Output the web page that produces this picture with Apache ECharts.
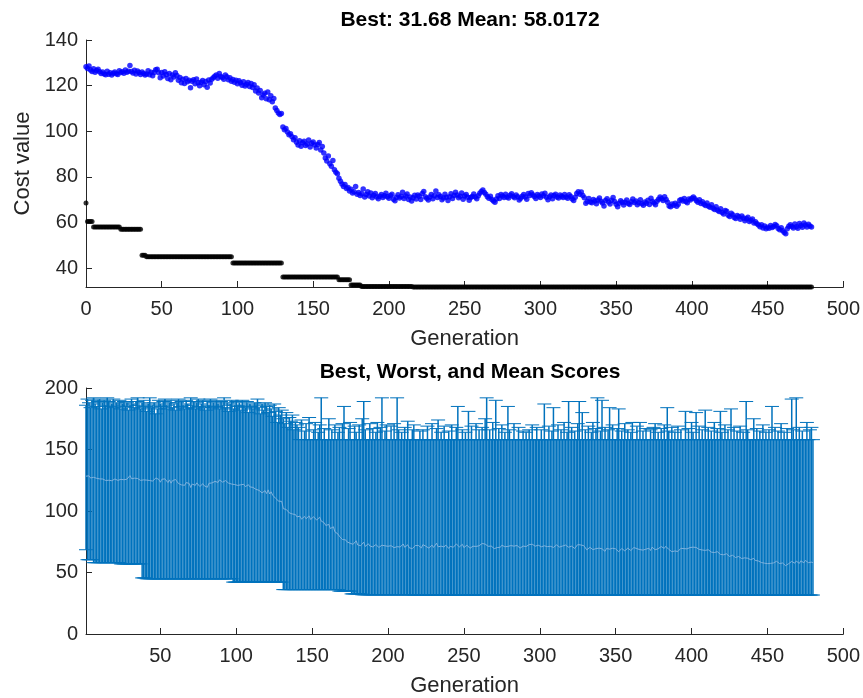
<!DOCTYPE html>
<html>
<head>
<meta charset="utf-8">
<script src="https://cdn.jsdelivr.net/npm/echarts@6/dist/echarts.min.js"></script>
<style>html,body{margin:0;padding:0;background:#fff}#c{width:863px;height:698px}</style>
</head>
<body>
<div id="c"></div>
<script>
// ---------- data ----------
const topTitle = "Best: 31.68 Mean: 58.0172";
const bottomTitle = "Best, Worst, and Mean Scores";
const xName = "Generation";
const yName = "Cost value";
const topYTicks = [40, 60, 80, 100, 120, 140];
const topXTicks = [0, 50, 100, 150, 200, 250, 300, 350, 400, 450, 500];
const bottomXTicks = [50, 100, 150, 200, 250, 300, 350, 400, 450, 500];

// best score per generation (0..479)
const bestScores = [
68.5,60.4,60.4,60.4,60.4,58,58,58,58,58,58,58,58,58,58,58,58,58,58,58,
58,58,58,57,57,57,57,57,57,57,57,57,57,57,57,57,57,45.6,45.6,45.6,
44.9,44.9,44.9,44.9,44.9,44.9,44.9,44.9,44.9,44.9,44.9,44.9,44.9,44.9,44.9,44.9,44.9,44.9,44.9,44.9,
44.9,44.9,44.9,44.9,44.9,44.9,44.9,44.9,44.9,44.9,44.9,44.9,44.9,44.9,44.9,44.9,44.9,44.9,44.9,44.9,
44.9,44.9,44.9,44.9,44.9,44.9,44.9,44.9,44.9,44.9,44.9,44.9,44.9,44.9,44.9,44.9,44.9,42.2,42.2,42.2,
42.2,42.2,42.2,42.2,42.2,42.2,42.2,42.2,42.2,42.2,42.2,42.2,42.2,42.2,42.2,42.2,42.2,42.2,42.2,42.2,
42.2,42.2,42.2,42.2,42.2,42.2,42.2,42.2,42.2,42.2,36.1,36.1,36.1,36.1,36.1,36.1,36.1,36.1,36.1,36.1,
36.1,36.1,36.1,36.1,36.1,36.1,36.1,36.1,36.1,36.1,36.1,36.1,36.1,36.1,36.1,36.1,36.1,36.1,36.1,36.1,
36.1,36.1,36.1,36.1,36.1,36.1,36.1,34.9,34.9,34.9,34.9,34.9,34.9,34.9,34.9,32.6,32.6,32.6,32.6,32.6,
32.6,32.6,31.9,31.9,31.9,31.9,31.9,31.9,31.9,31.9,31.9,31.9,31.9,31.9,31.9,31.9,31.9,31.9,31.9,31.9,
31.9,31.9,31.9,31.9,31.9,31.9,31.9,31.9,31.9,31.9,31.9,31.9,31.9,31.9,31.9,31.9,31.68,31.68,31.68,31.68,
31.68,31.68,31.68,31.68,31.68,31.68,31.68,31.68,31.68,31.68,31.68,31.68,31.68,31.68,31.68,31.68,31.68,31.68,31.68,31.68,
31.68,31.68,31.68,31.68,31.68,31.68,31.68,31.68,31.68,31.68,31.68,31.68,31.68,31.68,31.68,31.68,31.68,31.68,31.68,31.68,
31.68,31.68,31.68,31.68,31.68,31.68,31.68,31.68,31.68,31.68,31.68,31.68,31.68,31.68,31.68,31.68,31.68,31.68,31.68,31.68,
31.68,31.68,31.68,31.68,31.68,31.68,31.68,31.68,31.68,31.68,31.68,31.68,31.68,31.68,31.68,31.68,31.68,31.68,31.68,31.68,
31.68,31.68,31.68,31.68,31.68,31.68,31.68,31.68,31.68,31.68,31.68,31.68,31.68,31.68,31.68,31.68,31.68,31.68,31.68,31.68,
31.68,31.68,31.68,31.68,31.68,31.68,31.68,31.68,31.68,31.68,31.68,31.68,31.68,31.68,31.68,31.68,31.68,31.68,31.68,31.68,
31.68,31.68,31.68,31.68,31.68,31.68,31.68,31.68,31.68,31.68,31.68,31.68,31.68,31.68,31.68,31.68,31.68,31.68,31.68,31.68,
31.68,31.68,31.68,31.68,31.68,31.68,31.68,31.68,31.68,31.68,31.68,31.68,31.68,31.68,31.68,31.68,31.68,31.68,31.68,31.68,
31.68,31.68,31.68,31.68,31.68,31.68,31.68,31.68,31.68,31.68,31.68,31.68,31.68,31.68,31.68,31.68,31.68,31.68,31.68,31.68,
31.68,31.68,31.68,31.68,31.68,31.68,31.68,31.68,31.68,31.68,31.68,31.68,31.68,31.68,31.68,31.68,31.68,31.68,31.68,31.68,
31.68,31.68,31.68,31.68,31.68,31.68,31.68,31.68,31.68,31.68,31.68,31.68,31.68,31.68,31.68,31.68,31.68,31.68,31.68,31.68,
31.68,31.68,31.68,31.68,31.68,31.68,31.68,31.68,31.68,31.68,31.68,31.68,31.68,31.68,31.68,31.68,31.68,31.68,31.68,31.68,
31.68,31.68,31.68,31.68,31.68,31.68,31.68,31.68,31.68,31.68,31.68,31.68,31.68,31.68,31.68,31.68,31.68,31.68,31.68,31.68
];

// mean score per generation (0..479)
const meanScores = [
128.3,127.5,128.6,126.8,126.2,127.4,125.9,126.6,127.2,126.1,
125.3,126.0,125.1,124.8,126.3,125.0,125.6,124.6,125.4,126.0,
125.2,124.9,126.5,125.7,126.1,125.4,126.8,125.9,126.3,128.8,
126.2,125.5,126.7,125.1,126.4,125.8,124.9,126.0,125.3,124.6,
125.1,126.5,124.8,125.9,124.3,125.7,126.9,127.2,125.6,123.4,
125.8,124.2,126.1,124.9,123.1,125.3,122.6,124.7,123.8,125.6,
124.4,122.3,123.5,121.2,122.8,120.9,123.1,121.7,122.4,119.1,
121.9,122.6,120.8,122.9,121.3,119.9,121.5,122.2,120.4,121.8,
119.3,122.5,121.1,122.8,123.4,124.1,124.6,123.2,125.3,124.0,
123.5,122.8,124.7,123.9,122.6,123.4,121.9,122.7,121.5,122.3,
120.8,122.1,121.3,120.2,121.7,119.8,120.6,121.4,119.6,120.9,
119.2,120.4,117.6,118.9,116.8,117.9,114.7,115.9,116.6,114.2,
117.2,113.8,115.6,112.9,114.3,110.2,109.1,108.0,107.3,107.8,
101.9,100.6,101.2,99.7,98.4,98.9,97.6,96.3,97.1,95.2,
94.0,95.8,93.4,94.9,95.6,93.7,94.4,96.1,93.1,94.7,
95.3,93.9,92.6,94.2,95.0,91.8,93.3,90.4,88.2,86.9,
89.1,85.7,84.6,87.2,83.1,82.0,81.3,79.4,78.1,76.8,
75.7,76.6,74.9,75.3,73.8,74.6,72.9,73.5,75.8,72.4,
73.1,71.8,72.6,74.7,71.2,72.3,73.4,71.6,72.9,70.8,
71.9,72.7,71.1,70.4,71.5,72.2,70.9,71.7,72.8,71.3,
70.6,71.8,72.4,70.2,69.5,71.0,72.1,70.7,71.4,73.2,
70.5,71.6,72.5,70.1,71.2,69.4,70.8,71.9,70.3,72.0,
71.5,70.0,72.7,73.6,71.3,70.6,69.8,71.1,72.3,70.4,
71.7,73.8,70.9,72.1,71.4,69.9,70.7,72.4,71.0,69.6,
71.3,72.6,70.5,71.8,73.2,72.0,70.8,71.5,72.9,70.2,
71.6,72.3,71.0,69.7,70.9,71.4,72.5,71.2,70.4,71.7,
72.8,73.6,74.2,73.1,72.4,71.3,70.6,71.5,70.1,69.4,
68.9,70.3,71.7,70.5,72.2,71.6,70.9,72.4,71.2,70.7,
71.9,72.6,71.4,70.8,72.0,71.3,69.8,70.6,71.5,72.3,
71.1,70.2,72.7,71.8,73.0,72.1,71.4,70.5,72.2,71.6,
70.9,72.5,71.7,72.8,71.0,69.9,71.3,72.0,70.4,71.8,
72.4,71.2,70.7,72.0,71.5,70.9,72.3,71.1,70.6,72.1,
71.4,70.3,69.6,71.0,72.7,73.5,72.4,73.3,71.8,70.8,
68.4,69.2,70.5,69.0,68.6,70.1,69.4,68.2,69.8,70.7,
69.3,68.5,67.2,69.6,70.4,69.0,68.1,69.7,70.9,69.2,
68.0,66.9,68.4,69.5,68.8,67.6,68.9,69.8,68.3,67.9,
69.1,70.3,68.7,69.4,67.8,68.6,69.9,68.2,67.5,69.0,
68.4,69.7,67.9,70.6,69.2,68.5,67.7,69.3,70.2,71.1,
70.4,69.6,71.3,70.0,68.8,67.2,66.9,68.1,67.5,68.4,
67.1,68.0,69.7,70.1,69.4,70.5,69.2,68.6,70.3,69.8,
70.6,71.2,70.4,69.5,68.8,69.9,68.3,69.1,68.0,67.4,
68.5,67.1,66.6,67.8,66.2,65.7,66.9,65.3,64.8,66.0,
64.4,63.7,65.2,64.9,63.1,62.6,64.0,63.4,62.2,61.7,
63.0,62.5,61.4,62.8,61.9,60.7,61.6,62.3,60.4,60.9,
61.5,59.8,60.3,59.4,58.9,58.1,59.0,57.6,58.4,57.2,
57.9,57.4,58.6,57.8,58.2,59.1,58.5,57.3,56.8,57.7,
56.4,55.6,55.0,57.2,58.3,59.0,58.2,57.6,59.3,58.1,
57.4,59.5,58.6,57.9,59.8,58.9,58.0,59.2,58.4,58.02
];

// worst score per generation (0..479)
const worstScores = [
186,191,188,184,190,192,187,185,189,191,
183,188,190,186,192,189,185,187,191,184,
188,186,190,183,187,189,185,188,182,186,
191,187,184,189,192,186,183,188,190,185,
181,187,192,184,186,188,179,183,190,187,
185,189,191,186,183,188,190,184,187,182,
188,191,185,189,186,183,190,187,184,192,
186,189,183,188,191,185,187,190,184,182,
189,186,191,184,188,185,190,187,183,189,
186,192,184,188,181,187,190,183,186,189,
185,188,182,190,186,184,189,180,187,185,
183,188,186,191,184,179,187,182,188,185,
180,186,183,177,187,181,172,184,178,182,
175,171,180,168,176,173,178,166,172,170,
168,158,174,158,165,171,158,176,158,158,
166,172,158,164,170,192,158,167,158,158,
175,158,166,158,170,158,164,168,158,171,
185,158,158,167,172,158,158,169,164,158,
170,158,175,189,166,158,158,171,158,167,
158,164,172,158,168,192,158,165,170,158,
158,169,158,171,158,192,166,158,164,158,
168,158,173,158,158,166,170,158,158,158,
165,158,166,158,158,169,158,158,171,158,
158,167,174,158,164,158,169,158,158,165,
158,170,158,158,168,185,158,158,166,158,
164,158,181,158,169,158,158,171,158,166,
158,168,158,175,192,158,166,158,172,158,
190,158,167,158,170,158,164,158,185,166,
158,158,171,158,158,168,158,158,165,158,
164,158,166,158,170,158,158,168,158,158,
166,158,187,158,158,169,158,165,184,158,
158,170,158,166,158,172,158,164,189,158,
168,158,165,158,171,189,158,180,158,166,
158,169,158,164,172,158,167,192,158,165,
190,158,168,158,166,184,158,170,158,158,
167,183,158,165,158,171,158,166,158,164,
172,158,158,169,158,172,158,165,158,167,
158,158,166,158,168,171,158,164,158,167,
158,170,158,184,165,158,168,158,164,158,
169,158,166,158,158,181,158,167,158,172,
164,158,180,158,169,158,166,158,182,158,
168,158,165,158,172,158,167,158,181,164,
158,170,158,166,158,183,158,168,158,165,
158,169,158,164,158,189,166,158,158,158,
175,158,167,158,165,158,170,158,164,158,
166,158,185,158,168,158,165,158,171,158,
164,158,167,158,158,191,166,158,192,158,
168,158,165,158,158,172,158,166,168,158
];

// ---------- build chart ----------
const FONT = "'Liberation Sans', Arial, Helvetica, sans-serif";
const AX = '#262626';
const gens = bestScores.map((_, i) => i);
const bestPts = gens.map(g => [g, bestScores[g]]);
const meanPts = gens.map(g => [g, meanScores[g]]);
const rangePts = gens.map(g => [g + 1, bestScores[g], worstScores[g], meanScores[g]]);
const meanLinePts = gens.map(g => [g + 1, meanScores[g]]);

const axisCommon = {
  axisLine: { show: true, lineStyle: { color: AX, width: 1 } },
  axisTick: { show: true, inside: true, length: 6, lineStyle: { color: AX } },
  axisLabel: { color: AX, fontSize: 20, fontFamily: FONT },
  splitLine: { show: false }
};

const chart = echarts.init(document.getElementById('c'), null, { renderer: 'canvas' });
chart.setOption({
  animation: false,
  backgroundColor: '#fff',
  title: [
    { text: topTitle, left: 465, top: 5, textAlign: 'center',
      textStyle: { fontSize: 21, fontWeight: 'bold', color: '#000', fontFamily: FONT } },
    { text: bottomTitle, left: 465, top: 357, textAlign: 'center',
      textStyle: { fontSize: 21, fontWeight: 'bold', color: '#000', fontFamily: FONT } }
  ],
  grid: [
    { left: 86, top: 40, width: 758, height: 247 },
    { left: 86, top: 388, width: 759, height: 248 }
  ],
  xAxis: [
    Object.assign({}, axisCommon, {
      gridIndex: 0, type: 'value', min: 0, max: 500,
      name: xName, nameLocation: 'middle', nameGap: 41,
      nameTextStyle: { color: AX, fontSize: 22, fontFamily: FONT },
      axisTick: Object.assign({}, axisCommon.axisTick, { customValues: topXTicks }),
      axisLabel: Object.assign({}, axisCommon.axisLabel, { customValues: topXTicks, margin: 12 })
    }),
    Object.assign({}, axisCommon, {
      gridIndex: 1, type: 'value', min: 1, max: 500,
      name: xName, nameLocation: 'middle', nameGap: 41,
      nameTextStyle: { color: AX, fontSize: 22, fontFamily: FONT },
      axisTick: Object.assign({}, axisCommon.axisTick, { customValues: bottomXTicks }),
      axisLabel: Object.assign({}, axisCommon.axisLabel, { customValues: bottomXTicks, margin: 12 })
    })
  ],
  yAxis: [
    Object.assign({}, axisCommon, {
      gridIndex: 0, type: 'value', min: 31.68, max: 140,
      name: yName, nameLocation: 'middle', nameGap: 46, nameRotate: 90,
      nameTextStyle: { color: AX, fontSize: 22, fontFamily: FONT },
      axisTick: Object.assign({}, axisCommon.axisTick, { customValues: topYTicks }),
      axisLabel: Object.assign({}, axisCommon.axisLabel, { customValues: topYTicks, margin: 8 })
    }),
    Object.assign({}, axisCommon, {
      gridIndex: 1, type: 'value', min: 0, max: 200, interval: 50,
      axisLabel: Object.assign({}, axisCommon.axisLabel, { margin: 8 })
    })
  ],
  series: [
    { type: 'scatter', xAxisIndex: 0, yAxisIndex: 0, data: bestPts,
      symbol: 'circle', symbolSize: 5, itemStyle: { color: '#000' }, silent: true },
    { type: 'scatter', xAxisIndex: 0, yAxisIndex: 0, data: meanPts,
      symbol: 'circle', symbolSize: 5.5, itemStyle: { color: '#0000ff' }, silent: true },
    { type: 'custom', xAxisIndex: 1, yAxisIndex: 1, data: rangePts, silent: true,
      clip: false,
      renderItem: function (params, api) {
        const x = api.value(0);
        const lo = api.coord([x, api.value(1)]);
        const hi = api.coord([x, api.value(2)]);
        const hw = 7;
        const st = { stroke: '#0072BD', lineWidth: 1.5 };
        const cs = { stroke: '#0072BD', lineWidth: 1 };
        return { type: 'group', children: [
          { type: 'line', shape: { x1: lo[0], y1: lo[1], x2: hi[0], y2: hi[1] }, style: st },
          { type: 'line', shape: { x1: lo[0] - hw, y1: lo[1], x2: lo[0] + hw, y2: lo[1] }, style: cs },
          { type: 'line', shape: { x1: hi[0] - hw, y1: hi[1], x2: hi[0] + hw, y2: hi[1] }, style: cs }
        ] };
      }
    },
    { type: 'line', xAxisIndex: 1, yAxisIndex: 1, data: meanLinePts, symbol: 'none',
      lineStyle: { color: '#7fb2de', width: 1 }, silent: true }
  ]
});
</script>
</body>
</html>
